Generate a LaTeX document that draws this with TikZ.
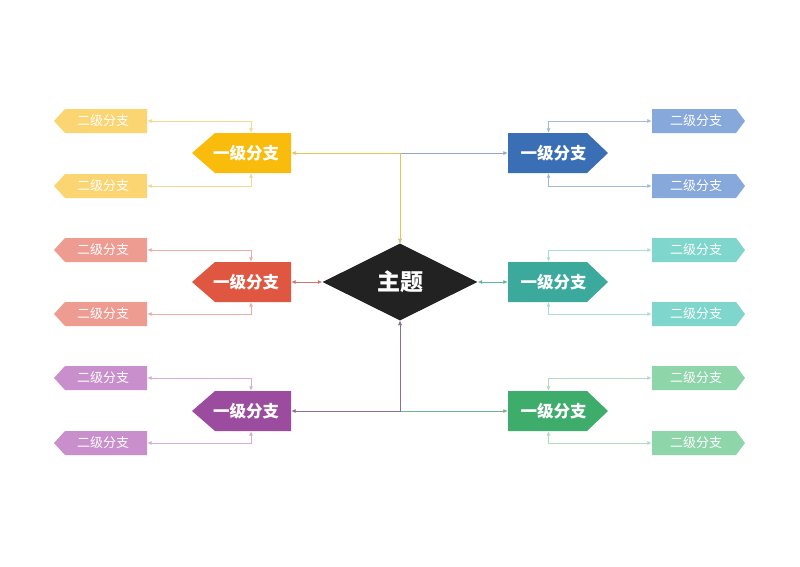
\documentclass[tikz,border=0pt]{standalone}
\usepackage{fontspec}
\newfontfamily\cjk{Noto Sans CJK SC}
\usetikzlibrary{shapes.geometric,arrows.meta}
\definecolor{yA}{HTML}{F9BC0C}\definecolor{yB}{HTML}{FBD571}\definecolor{yC}{HTML}{F4D88F}\definecolor{yD}{HTML}{E6C451}
\definecolor{bA}{HTML}{3A6FB6}\definecolor{bB}{HTML}{86A8DA}\definecolor{bC}{HTML}{A3B9DB}\definecolor{bD}{HTML}{8FA6CE}
\definecolor{rA}{HTML}{DF5641}\definecolor{rB}{HTML}{EE9C92}\definecolor{rC}{HTML}{ECADA6}\definecolor{rD}{HTML}{D7736A}
\definecolor{tA}{HTML}{3BA99C}\definecolor{tB}{HTML}{7ED6CC}\definecolor{tC}{HTML}{A9DDD6}\definecolor{tD}{HTML}{5BB6A6}
\definecolor{pA}{HTML}{9C4C9F}\definecolor{pB}{HTML}{C98FCC}\definecolor{pC}{HTML}{D5AED7}\definecolor{pD}{HTML}{8E6E92}
\definecolor{gA}{HTML}{3EAD6C}\definecolor{gB}{HTML}{8ED5AA}\definecolor{gC}{HTML}{AEDDC2}\definecolor{gD}{HTML}{70B591}
\definecolor{dk}{HTML}{222222}
% tip x, flat x, centre y, half height, point depth, colour
\newcommand\sigpoly[6]{\fill[#6] (#1,#3) -- ({#1+#5},{#3-#4}) -- (#2,{#3-#4}) -- (#2,{#3+#4}) -- ({#1+#5},{#3+#4}) -- cycle;}
\begin{document}
\begin{tikzpicture}[x=1pt,y=-1pt,
  lone/.style={draw=none,inner sep=0pt,minimum width=100pt,minimum height=40pt,text=white,font=\cjk\bfseries\fontsize{16.5}{18}\selectfont},
  ltwo/.style={draw=none,inner sep=0pt,minimum width=93pt,minimum height=24pt,text=white,font=\cjk\fontsize{13}{15}\selectfont},
  conn/.style={line width=0.8pt,{Latex[length=4.5pt,width=4pt]}-{Latex[length=4.5pt,width=4pt]}},
  main/.style={diamond,fill=dk,draw=none,inner sep=0pt,minimum width=155pt,minimum height=77pt,text=white,font=\cjk\bfseries\fontsize{23}{25}\selectfont}]
\useasboundingbox (0,0) rectangle (800,566);
\fill[white] (0,0) rectangle (800,566);

% main topic
\node[main] (M) at (400,282) {主题};

% level-1 shapes
\sigpoly{192}{291}{153}{20}{23}{yA}
\sigpoly{192}{291}{282}{20}{23}{rA}
\sigpoly{192}{291}{411}{20}{23}{pA}
\sigpoly{608}{508}{153}{20}{-21}{bA}
\sigpoly{608}{508}{282}{20}{-21}{tA}
\sigpoly{608}{508}{411}{20}{-21}{gA}
\node[lone,minimum width=99pt] (Y1) at (241.5,153) {\hspace*{9pt}一级分支};
\node[lone,minimum width=99pt] (R1) at (241.5,282) {\hspace*{9pt}一级分支};
\node[lone,minimum width=99pt] (P1) at (241.5,411) {\hspace*{9pt}一级分支};
\node[lone] (B1) at (558,153) {一级分支\hspace*{9pt}};
\node[lone] (T1) at (558,282) {一级分支\hspace*{9pt}};
\node[lone] (G1) at (558,411) {一级分支\hspace*{9pt}};

% level-2 shapes, left
\foreach \cy/\c in {121/yB,186/yB,250/rB,314/rB,378/pB,443/pB}{\sigpoly{54}{147}{\cy}{12}{11}{\c}}
% level-2 shapes, right
\foreach \cy/\c in {121/bB,186/bB,250/tB,314/tB,378/gB,443/gB}{\sigpoly{745}{652}{\cy}{12}{-9}{\c}}
\node[ltwo] (Y2a) at (100.5,121) {\hspace*{5pt}二级分支};
\node[ltwo] (Y2b) at (100.5,186) {\hspace*{5pt}二级分支};
\node[ltwo] (R2a) at (100.5,250) {\hspace*{5pt}二级分支};
\node[ltwo] (R2b) at (100.5,314) {\hspace*{5pt}二级分支};
\node[ltwo] (P2a) at (100.5,378) {\hspace*{5pt}二级分支};
\node[ltwo] (P2b) at (100.5,443) {\hspace*{5pt}二级分支};
\node[ltwo] (B2a) at (698.5,121) {二级分支\hspace*{5pt}};
\node[ltwo] (B2b) at (698.5,186) {二级分支\hspace*{5pt}};
\node[ltwo] (T2a) at (698.5,250) {二级分支\hspace*{5pt}};
\node[ltwo] (T2b) at (698.5,314) {二级分支\hspace*{5pt}};
\node[ltwo] (G2a) at (698.5,378) {二级分支\hspace*{5pt}};
\node[ltwo] (G2b) at (698.5,443) {二级分支\hspace*{5pt}};

% main to level-1
\draw[conn,bD] (M.north) |- (B1.west);
\draw[conn,yD] (M.north) |- (Y1.east);
\draw[conn,rD] (M.west) -- (R1.east);
\draw[conn,tD] (M.east) -- (T1.west);
\draw[conn,gD] (M.south) |- (G1.west);
\draw[conn,pD] (M.south) |- (P1.east);

% level-1 to level-2, left
\draw[conn,yC] ([xshift=9.5pt]Y1.north) |- (Y2a.east);
\draw[conn,yC] ([xshift=9.5pt]Y1.south) |- (Y2b.east);
\draw[conn,rC] ([xshift=9.5pt]R1.north) |- (R2a.east);
\draw[conn,rC] ([xshift=9.5pt]R1.south) |- (R2b.east);
\draw[conn,pC] ([xshift=9.5pt]P1.north) |- (P2a.east);
\draw[conn,pC] ([xshift=9.5pt]P1.south) |- (P2b.east);
% right
\draw[conn,bC] ([xshift=-9.5pt]B1.north) |- (B2a.west);
\draw[conn,bC] ([xshift=-9.5pt]B1.south) |- (B2b.west);
\draw[conn,tC] ([xshift=-9.5pt]T1.north) |- (T2a.west);
\draw[conn,tC] ([xshift=-9.5pt]T1.south) |- (T2b.west);
\draw[conn,gC] ([xshift=-9.5pt]G1.north) |- (G2a.west);
\draw[conn,gC] ([xshift=-9.5pt]G1.south) |- (G2b.west);
\end{tikzpicture}
\end{document}
